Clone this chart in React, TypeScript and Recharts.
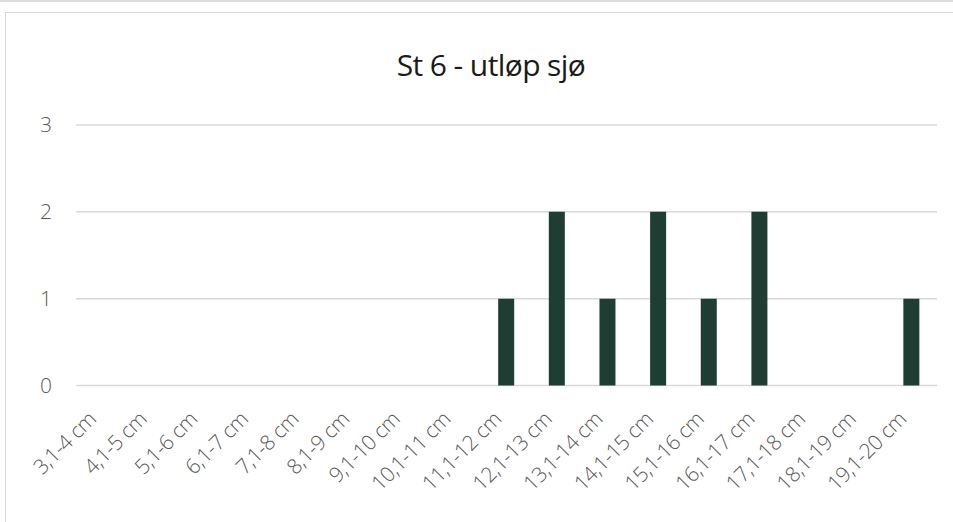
import React from 'react';
import { BarChart, Bar, XAxis, YAxis, CartesianGrid } from 'recharts';

// length classes (cm) and fish counts per class
const lengthClasses = [
  '3,1-4 cm', '4,1-5 cm', '5,1-6 cm', '6,1-7 cm', '7,1-8 cm', '8,1-9 cm',
  '9,1-10 cm', '10,1-11 cm', '11,1-12 cm', '12,1-13 cm', '13,1-14 cm',
  '14,1-15 cm', '15,1-16 cm', '16,1-17 cm', '17,1-18 cm', '18,1-19 cm',
  '19,1-20 cm',
];
const counts = [0, 0, 0, 0, 0, 0, 0, 0, 1, 2, 1, 2, 1, 2, 0, 0, 1];
const yTicks = [0, 1, 2, 3];

const data = lengthClasses.map((name, i) => ({ name, count: counts[i] }));

const labelFont = '"Open Sans", "Noto Sans", sans-serif';
const labelColor = '#595959';

const CategoryTick = ({ x, y, payload }: any) => (
  <g transform={`translate(${x - 4},${y + 33})`}>
    <text
      x={0}
      y={0}
      textAnchor="end"
      transform="rotate(-45)"
      fill={labelColor}
      fontSize={21}
      fontWeight={300}
      fontFamily={labelFont}
      letterSpacing={-0.4}
    >
      {payload.value}
    </text>
  </g>
);

const App = () => {
  return (
    <div style={{ position: 'absolute', left: 0, top: 0, width: 953, height: 522, background: '#fff', overflow: 'hidden' }}>
      <div style={{ position: 'absolute', left: 0, top: 0, width: 953, height: 2, background: '#dcdcdc' }} />
      <div style={{ position: 'absolute', left: 5, top: 12, width: 960, height: 520, border: '1px solid #d9d9d9', boxSizing: 'border-box' }} />
      <div style={{
        position: 'absolute', left: 0, top: 44, width: 982, textAlign: 'center',
        fontFamily: labelFont, fontSize: 30, letterSpacing: -0.6, color: '#1a1a1a', lineHeight: '42px',
      }}>
        St 6 - utløp sjø
      </div>
      <div style={{ position: 'absolute', left: 6, top: 13 }}>
        <BarChart
          width={947}
          height={509}
          data={data}
          margin={{ top: 112, right: 16, left: 10, bottom: 0 }}
        >
          <CartesianGrid vertical={false} stroke="#d9d9d9" strokeWidth={1.5} />
          <XAxis
            dataKey="name"
            interval={0}
            height={136.5}
            axisLine={false}
            tickLine={false}
            tickSize={0}
            tick={<CategoryTick />}
          />
          <YAxis
            width={60}
            domain={[0, 3]}
            ticks={yTicks}
            axisLine={false}
            tickLine={false}
            tickMargin={18}
            tick={{ fill: labelColor, fontSize: 21, fontWeight: 300, fontFamily: labelFont }}
          />
          <Bar dataKey="count" fill="#1e3d33" barSize={16} isAnimationActive={false} />
        </BarChart>
      </div>
    </div>
  );
};

export default App;
